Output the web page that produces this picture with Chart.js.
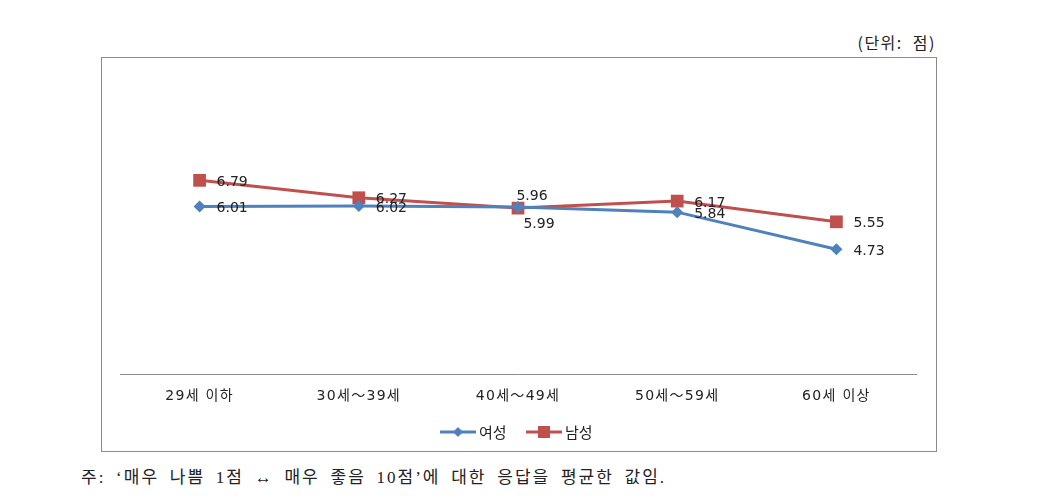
<!DOCTYPE html>
<html>
<head>
<meta charset="utf-8">
<script src="https://cdn.jsdelivr.net/npm/chart.js@4"></script>
<style>
    html, body { margin: 0; padding: 0; background: #ffffff; }
    body { width: 1039px; height: 503px; position: relative; overflow: hidden; font-family: 'Noto Sans CJK KR', sans-serif; }
    #unit { position: absolute; right: 103px; top: 30px; font-size: 16px; letter-spacing: 1.5px; word-spacing: 5px; color: #222; }
    #box { position: absolute; left: 101px; top: 57px; width: 836px; height: 395px; border: 1px solid #8a8a8a; box-sizing: border-box; }
    #box canvas { display: block; }
    #note { position: absolute; left: 81px; top: 463px; font-family: 'Liberation Serif', 'Noto Sans CJK KR', serif; font-size: 17px; letter-spacing: 2px; word-spacing: 4.5px; color: #222; white-space: nowrap; }
</style>
</head>
<body>
<div id="unit">(단위: 점)</div>
<div id="box"><canvas id="lineChart" width="834" height="393"></canvas></div>
<div id="note">주: ‘매우 나쁨 1점 ↔ 매우 좋음 10점’에 대한 응답을 평균한 값임.</div>
<script>
// Age-group averages (score)
const categories = ['29세 이하', '30세～39세', '40세～49세', '50세～59세', '60세 이상'];
const femaleValues = [6.01, 6.02, 5.99, 5.84, 4.73];
const maleValues = [6.79, 6.27, 5.96, 6.17, 5.55];
const seriesNames = ['여성', '남성'];

// where each value label sits relative to its point
const femaleLabelPos = ['right', 'right', 'below', 'right', 'right'];
const maleLabelPos = ['right', 'right', 'above', 'right', 'right'];

const chartColors = {
    blue: '#4F81BD',
    red: '#C0504D',
    text: '#222222',
    axis: '#8a8a8a'
};

// small letter spacing for the axis labels
const tickSpacing = {
    id: 'tickSpacing',
    beforeDraw(chart) { chart.ctx.letterSpacing = '1.3px'; }
};

// value labels next to the markers
const valueLabels = {
    id: 'valueLabels',
    afterDatasetsDraw(chart) {
        const ctx = chart.ctx;
        ctx.save();
        ctx.letterSpacing = '0px';
        ctx.font = '14px "DejaVu Sans", sans-serif';
        ctx.fillStyle = chartColors.text;
        ctx.textBaseline = 'middle';
        chart.data.datasets.forEach(function(ds, i) {
            const meta = chart.getDatasetMeta(i);
            meta.data.forEach(function(pt, j) {
                const text = ds.data[j].toFixed(2);
                const pos = ds.labelPos[j];
                if (pos === 'above') {
                    ctx.textAlign = 'center';
                    ctx.fillText(text, pt.x + 14, pt.y - 12);
                } else if (pos === 'below') {
                    ctx.textAlign = 'center';
                    ctx.fillText(text, pt.x + 21, pt.y + 17);
                } else {
                    ctx.textAlign = 'left';
                    ctx.fillText(text, pt.x + 17, pt.y + 2);
                }
            });
        });
        ctx.restore();
    }
};

// legend drawn as line + marker like the office style
const lineLegend = {
    id: 'lineLegend',
    afterDraw(chart) {
        const ctx = chart.ctx;
        ctx.save();
        ctx.letterSpacing = '0px';
        ctx.font = '15px "Noto Sans CJK KR", sans-serif';
        ctx.textBaseline = 'middle';
        ctx.textAlign = 'left';
        const y = 374;
        const starts = [338, 424];
        chart.data.datasets.forEach(function(ds, i) {
            const x0 = starts[i];
            ctx.strokeStyle = ds.borderColor;
            ctx.lineWidth = 3;
            ctx.beginPath();
            ctx.moveTo(x0, y);
            ctx.lineTo(x0 + 36, y);
            ctx.stroke();
            ctx.fillStyle = ds.borderColor;
            const cx = x0 + 18;
            if (ds.pointStyle === 'rectRot') {
                ctx.beginPath();
                ctx.moveTo(cx, y - 5);
                ctx.lineTo(cx + 5, y);
                ctx.lineTo(cx, y + 5);
                ctx.lineTo(cx - 5, y);
                ctx.closePath();
                ctx.fill();
            } else {
                ctx.fillRect(cx - 6, y - 6, 12, 12);
            }
            ctx.fillStyle = chartColors.text;
            ctx.fillText(ds.label, x0 + 39, y);
        });
        ctx.restore();
    }
};

new Chart(document.getElementById('lineChart'), {
    type: 'line',
    data: {
        labels: categories,
        datasets: [{
            label: seriesNames[0],
            data: femaleValues,
            labelPos: femaleLabelPos,
            borderColor: chartColors.blue,
            backgroundColor: chartColors.blue,
            borderWidth: 3,
            pointStyle: 'rectRot',
            pointRadius: 6,
            pointBorderWidth: 0,
            tension: 0
        }, {
            label: seriesNames[1],
            data: maleValues,
            labelPos: maleLabelPos,
            borderColor: chartColors.red,
            backgroundColor: chartColors.red,
            borderWidth: 3,
            pointStyle: 'rect',
            pointRadius: 9,
            pointBorderWidth: 0,
            tension: 0
        }]
    },
    options: {
        responsive: false,
        animation: false,
        layout: { padding: { left: 18, right: 20, top: 15, bottom: 47 } },
        plugins: {
            legend: { display: false },
            tooltip: { enabled: false }
        },
        scales: {
            y: {
                display: false,
                min: 1,
                max: 10
            },
            x: {
                offset: true,
                grid: { display: false, drawTicks: false },
                border: { display: true, color: chartColors.axis, width: 1 },
                ticks: {
                    color: chartColors.text,
                    font: { size: 14, family: '"DejaVu Sans", "Noto Sans CJK KR", sans-serif' },
                    padding: 14,
                    maxRotation: 0,
                    autoSkip: false
                },
                afterFit(scale) { scale.height = 30; }
            }
        }
    },
    plugins: [tickSpacing, valueLabels, lineLegend]
});
</script>
</body>
</html>
